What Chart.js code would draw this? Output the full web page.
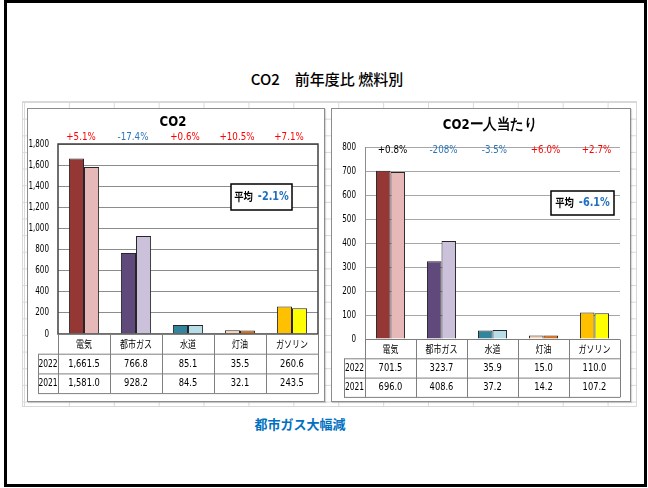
<!DOCTYPE html>
<html>
<head>
<meta charset="utf-8">
<script src="https://cdn.jsdelivr.net/npm/chart.js@4.4.0/dist/chart.umd.min.js"></script>
<style>
  html, body { margin: 0; padding: 0; background: #fff; }
  body { width: 648px; height: 488px; position: relative; overflow: hidden; font-family: "Noto Sans CJK JP", sans-serif; }
  #frame { position: absolute; left: 4px; top: 0; width: 643px; height: 487px; border: 3px solid #000; box-sizing: border-box; }
  #title { position: absolute; left: 177px; top: 68px; width: 300px; text-align: center; font-size: 15px; font-weight: 500; color: #000; white-space: pre; }
  #sheet {
    position: absolute; left: 22px; top: 101px; width: 615px; height: 306px; box-sizing: border-box;
    border: 1px solid #d9d9d9;
    background-image:
      linear-gradient(to right, #d9d9d9 1px, transparent 1px),
      linear-gradient(to bottom, #d9d9d9 1px, transparent 1px);
    background-size: 44.9px 100%, 100% 16.65px;
    background-position: 1px 0, 0 0;
  }
  .box { position: absolute; border: 1px solid #8c8c8c; box-sizing: border-box; background: #fff; box-shadow: 1px 1px 1px rgba(0,0,0,0.15); }
  #boxL { left: 27px; top: 108px; width: 298px; height: 294px; }
  #boxR { left: 331px; top: 108px; width: 300px; height: 294px; }
  canvas { display: block; }
  #note { position: absolute; left: 200px; top: 414px; width: 200px; text-align: center; font-size: 13px; font-weight: bold; color: #0070c0; }
</style>
</head>
<body>
<div id="frame"></div>
<div id="title">CO2　前年度比 燃料別</div>
<div id="sheet"></div>
<div class="box" id="boxL"><canvas id="co2Chart" width="296" height="292"></canvas></div>
<div class="box" id="boxR"><canvas id="perCapChart" width="298" height="292"></canvas></div>
<div id="note">都市ガス大幅減</div>

<script>
// ---- data ----
const categories = ["電気", "都市ガス", "水道", "灯油", "ガソリン"];
const years = ["2022", "2021"];

const co2_2022 = [1661.5, 766.8, 85.1, 35.5, 260.6];
const co2_2021 = [1581.0, 928.2, 84.5, 32.1, 243.5];
const co2Change = ["+5.1%", "-17.4%", "+0.6%", "+10.5%", "+7.1%"];
const co2ChangeColors = ["#ff0000", "#2e75b6", "#ff0000", "#ff0000", "#ff0000"];
const co2Avg = "-2.1%";
const co2Ticks = [0, 200, 400, 600, 800, 1000, 1200, 1400, 1600, 1800];

const perCap_2022 = [701.5, 323.7, 35.9, 15.0, 110.0];
const perCap_2021 = [696.0, 408.6, 37.2, 14.2, 107.2];
const perCapChange = ["+0.8%", "-208%", "-3.5%", "+6.0%", "+2.7%"];
const perCapChangeColors = ["#000000", "#2e75b6", "#2e75b6", "#ff0000", "#ff0000"];
const perCapAvg = "-6.1%";
const perCapTicks = [0, 100, 200, 300, 400, 500, 600, 700, 800];

const colors2022 = ["#953735", "#604a7b", "#31859c", "#fcd5b5", "#ffc000"];
const colors2021 = ["#e6b9b8", "#ccc1da", "#b7dee8", "#e46c0a", "#ffff00"];

const NARROW = '"Liberation Sans Narrow","DejaVu Sans Condensed","Liberation Sans",sans-serif';
const JP = '"Noto Sans CJK JP",sans-serif';

const fmt = (v) => v.toLocaleString("en-US", { minimumFractionDigits: 1, maximumFractionDigits: 1 });

// text squeezed horizontally (the original uses a narrow font)
function squeezeText(ctx, text, x, y, sx) {
  ctx.save();
  ctx.translate(x, y);
  ctx.scale(sx, 1);
  ctx.fillText(text, 0, 0);
  ctx.restore();
}

function decorPlugin(cfg) {
  return {
    id: "decor",
    afterDraw(chart) {
      const { ctx, chartArea: a, scales: { x, y } } = chart;
      const n = categories.length;
      const centers = categories.map((c, i) => x.getPixelForValue(i));
      const edges = [a.left];
      for (let i = 1; i < n; i++) edges.push((centers[i - 1] + centers[i]) / 2);
      edges.push(a.right);

      ctx.save();
      const line = (x1, y1, x2, y2) => {
        ctx.beginPath();
        ctx.moveTo(x1, y1);
        ctx.lineTo(x2, y2);
        ctx.stroke();
      };

      // plot frame / axis
      if (cfg.plotBox) {
        ctx.strokeStyle = "#404040";
        ctx.lineWidth = 1.5;
        ctx.strokeRect(a.left, a.top, a.right - a.left, a.bottom - a.top);
      } else {
        ctx.strokeStyle = "#8c8c8c";
        ctx.lineWidth = 1;
        line(Math.round(a.left) + 0.5, a.top, Math.round(a.left) + 0.5, a.bottom);
      }

      // y tick labels, from the y scale
      ctx.fillStyle = "#000";
      ctx.textAlign = "right";
      ctx.textBaseline = "middle";
      ctx.font = "10px " + NARROW;
      y.ticks.forEach((t) => {
        squeezeText(ctx, t.value.toLocaleString("en-US"), a.left - cfg.tickPad, y.getPixelForValue(t.value), 0.8);
      });

      // data table under the plot
      const r0 = Math.round(a.bottom) + 0.5;
      const rows = [r0, r0 + cfg.rowH, r0 + cfg.rowH * 2, r0 + cfg.rowH * 3];
      ctx.strokeStyle = "#7f7f7f";
      ctx.lineWidth = 1;
      line(a.left, rows[0], a.right, rows[0]);
      line(cfg.yearLeft, rows[1], a.right, rows[1]);
      line(cfg.yearLeft, rows[2], a.right, rows[2]);
      line(cfg.yearLeft, rows[3], a.right, rows[3]);
      edges.forEach((ex) => line(Math.round(ex) + 0.5, rows[0], Math.round(ex) + 0.5, rows[3]));
      line(cfg.yearLeft + 0.5, rows[1], cfg.yearLeft + 0.5, rows[3]);

      ctx.textAlign = "center";
      ctx.font = "10px " + JP;
      categories.forEach((c, i) => squeezeText(ctx, c, centers[i], (rows[0] + rows[1]) / 2, 0.8));
      ctx.font = "10.5px " + NARROW;
      [cfg.v2022, cfg.v2021].forEach((vals, r) => {
        const ym = (rows[r + 1] + rows[r + 2]) / 2;
        squeezeText(ctx, years[r], (cfg.yearLeft + a.left) / 2, ym, 0.8);
        vals.forEach((v, i) => squeezeText(ctx, fmt(v), centers[i], ym, 0.88));
      });

      // title
      ctx.font = "bold 14.5px " + NARROW;
      ctx.fillStyle = "#000";
      squeezeText(ctx, cfg.title, cfg.titleX, cfg.titleY, 0.9);

      // change labels
      ctx.font = "11px " + NARROW;
      cfg.change.forEach((t, i) => {
        ctx.fillStyle = cfg.changeColors[i];
        squeezeText(ctx, t, centers[i] + cfg.changeDx, cfg.changeY, 0.88);
      });

      // average box
      const b = cfg.avgBox;
      ctx.fillStyle = "#fff";
      ctx.fillRect(b.x, b.y, b.w, b.h);
      ctx.strokeStyle = "#000";
      ctx.lineWidth = 1.5;
      ctx.strokeRect(b.x, b.y, b.w, b.h);
      ctx.textAlign = "left";
      ctx.font = "bold 11px " + JP;
      const w1 = ctx.measureText("平均").width * 0.85;
      ctx.font = "bold 12px " + NARROW;
      const w2 = ctx.measureText(cfg.avg).width * 0.9;
      const gap = 5;
      const tx = b.x + (b.w - w1 - gap - w2) / 2;
      const ty = b.y + b.h / 2;
      ctx.fillStyle = "#000";
      ctx.font = "bold 11px " + JP;
      squeezeText(ctx, "平均", tx, ty, 0.85);
      ctx.fillStyle = "#1f6fc0";
      ctx.font = "bold 12px " + NARROW;
      squeezeText(ctx, cfg.avg, tx + w1 + gap, ty, 0.9);
      ctx.restore();
    },
  };
}

function makeChart(id, cfg) {
  const ticks = cfg.ticks;
  return new Chart(document.getElementById(id), {
    type: "bar",
    data: {
      labels: categories,
      datasets: [
        { label: years[0], data: cfg.v2022, backgroundColor: colors2022, borderColor: "#262626", borderWidth: 1 },
        { label: years[1], data: cfg.v2021, backgroundColor: colors2021, borderColor: "#262626", borderWidth: 1 },
      ],
    },
    options: {
      responsive: false,
      animation: false,
      events: [],
      layout: { padding: cfg.padding },
      datasets: { bar: { categoryPercentage: cfg.catPct, barPercentage: 1 } },
      plugins: { legend: { display: false }, tooltip: { enabled: false }, title: { display: false } },
      scales: {
        x: { display: false },
        y: {
          min: ticks[0],
          max: ticks[ticks.length - 1],
          afterFit: (scale) => { scale.width = cfg.axisW; },
          border: { display: false },
          grid: { color: cfg.gridColor, lineWidth: 1, drawTicks: false },
          ticks: { stepSize: ticks[1] - ticks[0], display: false },
        },
      },
    },
    plugins: [decorPlugin(cfg)],
  });
}

makeChart("co2Chart", {
  v2022: co2_2022, v2021: co2_2021, ticks: co2Ticks,
  change: co2Change, changeColors: co2ChangeColors, changeY: 28, changeDx: -3,
  avg: co2Avg, avgBox: { x: 203, y: 75, w: 61, h: 26 },
  title: "CO2", titleX: 145, titleY: 13,
  padding: { left: 0, top: 35, right: 6, bottom: 67 },
  axisW: 30, tickPad: 9, catPct: 0.58, gridColor: "#8c8c8c",
  plotBox: true, rowH: 19.7, yearLeft: 10,
});

makeChart("perCapChart", {
  v2022: perCap_2022, v2021: perCap_2021, ticks: perCapTicks,
  change: perCapChange, changeColors: perCapChangeColors, changeY: 41, changeDx: 2,
  avg: perCapAvg, avgBox: { x: 219, y: 82, w: 63, h: 24 },
  title: "CO2ー人当たり", titleX: 158, titleY: 16,
  padding: { left: 0, top: 38, right: 10, bottom: 62 },
  axisW: 33, tickPad: 9, catPct: 0.57, gridColor: "#a6a6a6",
  plotBox: false, rowH: 19.3, yearLeft: 12,
});
</script>
</body>
</html>
